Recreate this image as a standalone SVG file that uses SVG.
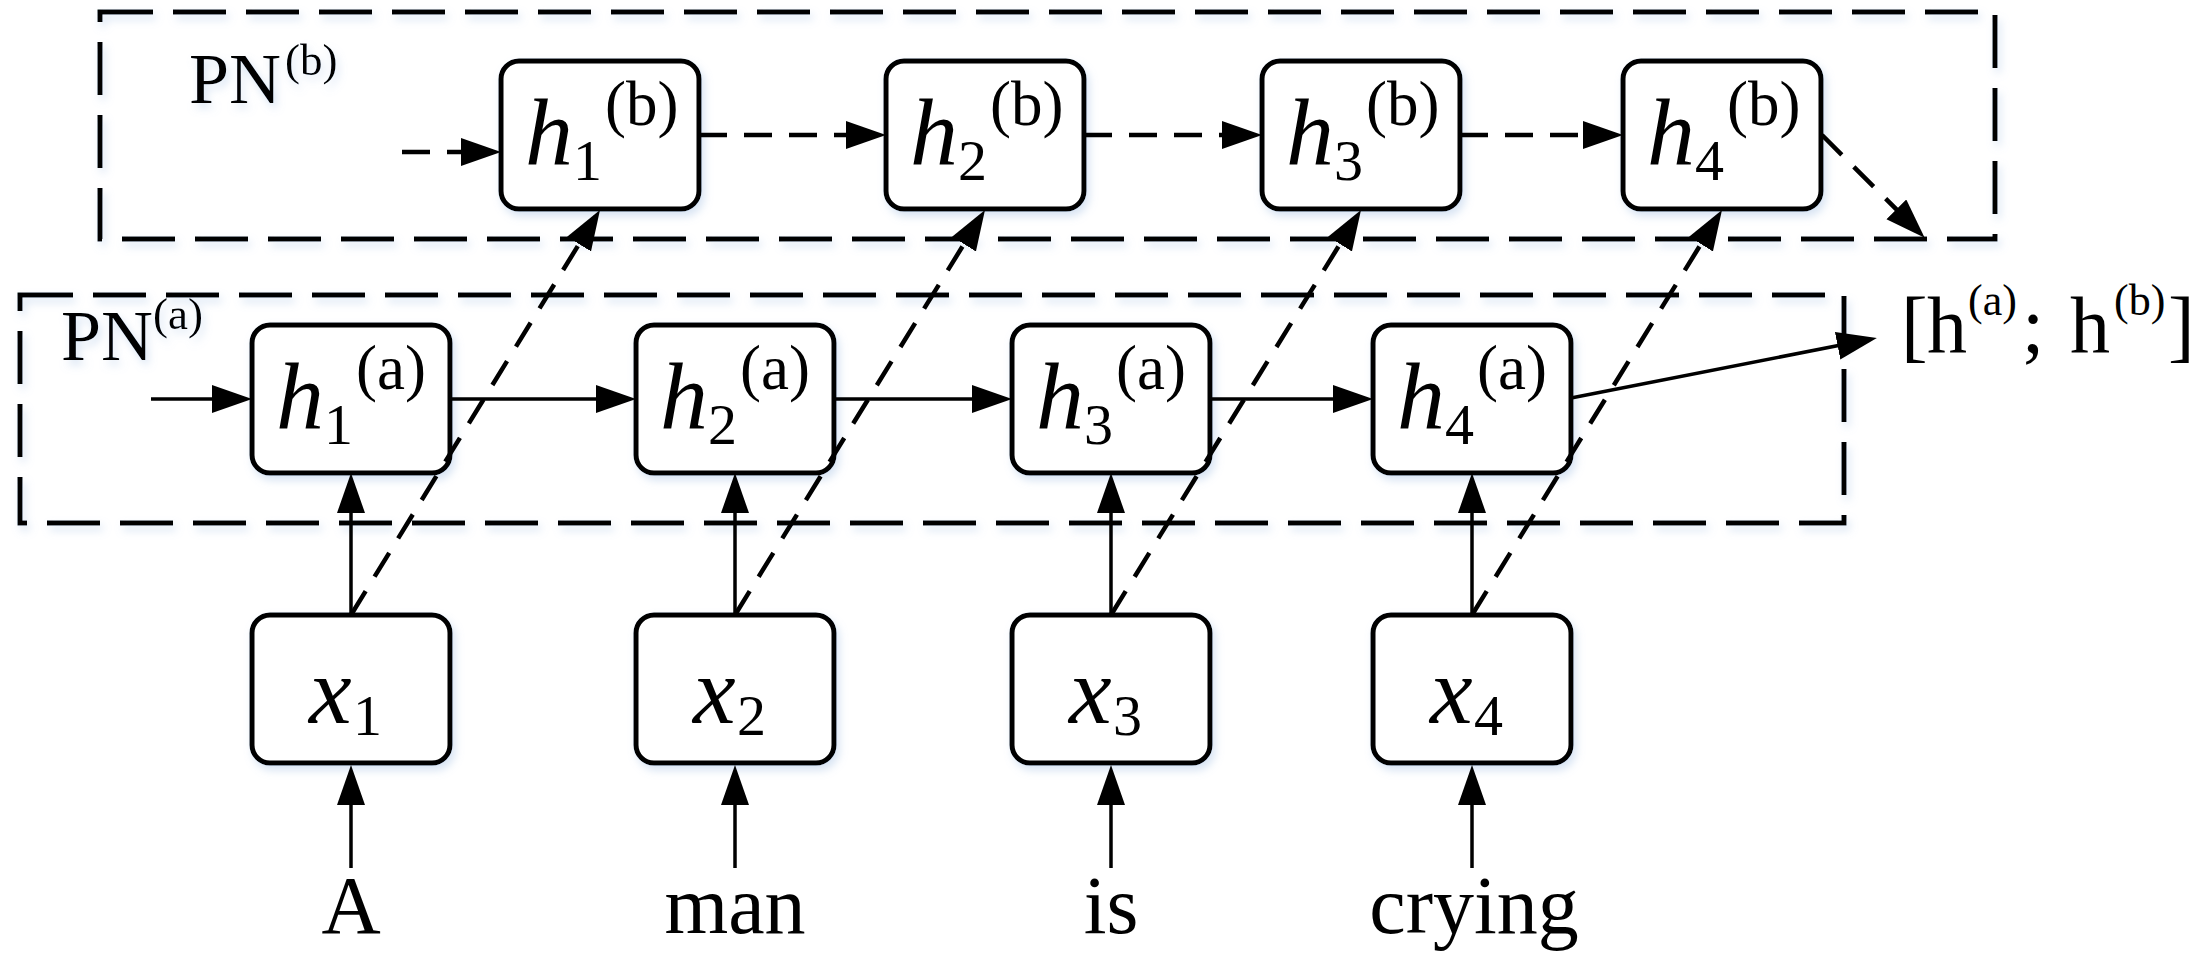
<svg xmlns="http://www.w3.org/2000/svg" width="2200" height="960" viewBox="0 0 2200 960">
<defs>
<filter id="sh" x="-10%" y="-10%" width="125%" height="130%">
<feDropShadow dx="3" dy="5" stdDeviation="4" flood-color="#8fb0dc" flood-opacity="0.35"/>
</filter>
<marker id="ah" markerUnits="userSpaceOnUse" markerWidth="42" markerHeight="30" refX="32" refY="14" orient="auto" viewBox="0 0 42 30">
<path d="M0,0 L40,14 L0,28 z" fill="#000"/>
</marker>
</defs>
<style>
.frame{fill:none;stroke:#000;stroke-width:5;stroke-dasharray:53 20}
.box{fill:#fff;stroke:#000;stroke-width:5}
text{font-family:"Liberation Serif","Times New Roman",serif;fill:#000}
.it{font-style:italic;font-size:96px}
.sub{font-size:58px}
.sup{font-size:63px}
.word{font-size:82px;text-anchor:middle}
.solid{fill:none;stroke:#000;stroke-width:3.5;marker-end:url(#ah)}
.dash{fill:none;stroke:#000;stroke-width:4.5;stroke-dasharray:28 17;marker-end:url(#ah)}
</style>
<rect width="2200" height="960" fill="#fff"/>

<g id="frame-b" filter="url(#sh)">
<rect class="frame" x="100" y="12" width="1895" height="227"/>
<text x="189" y="103" font-size="72">PN</text>
<text x="285" y="75" font-size="45">(b)</text>
</g>
<g id="frame-a" filter="url(#sh)">
<rect class="frame" x="20" y="295" width="1824" height="228"/>
<text x="61" y="360" font-size="72">PN</text>
<text x="153" y="329" font-size="45">(a)</text>
</g>

<g id="hb1"><rect class="box" filter="url(#sh)" x="501" y="61" width="198" height="148" rx="18"/>
<text class="it" x="525" y="165">h</text><text class="sub" x="573" y="180">1</text><text class="sup" x="605" y="125">(b)</text></g>
<g id="hb2"><rect class="box" filter="url(#sh)" x="886" y="61" width="198" height="148" rx="18"/>
<text class="it" x="910" y="165">h</text><text class="sub" x="958" y="180">2</text><text class="sup" x="990" y="125">(b)</text></g>
<g id="hb3"><rect class="box" filter="url(#sh)" x="1262" y="61" width="198" height="148" rx="18"/>
<text class="it" x="1286" y="165">h</text><text class="sub" x="1334" y="180">3</text><text class="sup" x="1366" y="125">(b)</text></g>
<g id="hb4"><rect class="box" filter="url(#sh)" x="1623" y="61" width="198" height="148" rx="18"/>
<text class="it" x="1647" y="165">h</text><text class="sub" x="1695" y="180">4</text><text class="sup" x="1727" y="125">(b)</text></g>

<g id="ha1"><rect class="box" filter="url(#sh)" x="252" y="325" width="198" height="148" rx="18"/>
<text class="it" x="276" y="429">h</text><text class="sub" x="324" y="444">1</text><text class="sup" x="356" y="389">(a)</text></g>
<g id="ha2"><rect class="box" filter="url(#sh)" x="636" y="325" width="198" height="148" rx="18"/>
<text class="it" x="660" y="429">h</text><text class="sub" x="708" y="444">2</text><text class="sup" x="740" y="389">(a)</text></g>
<g id="ha3"><rect class="box" filter="url(#sh)" x="1012" y="325" width="198" height="148" rx="18"/>
<text class="it" x="1036" y="429">h</text><text class="sub" x="1084" y="444">3</text><text class="sup" x="1116" y="389">(a)</text></g>
<g id="ha4"><rect class="box" filter="url(#sh)" x="1373" y="325" width="198" height="148" rx="18"/>
<text class="it" x="1397" y="429">h</text><text class="sub" x="1445" y="444">4</text><text class="sup" x="1477" y="389">(a)</text></g>

<g id="x1"><rect class="box" filter="url(#sh)" x="252" y="615" width="198" height="148" rx="18"/>
<text class="it" x="309" y="723">x</text><text class="sub" x="353" y="735">1</text></g>
<g id="x2"><rect class="box" filter="url(#sh)" x="636" y="615" width="198" height="148" rx="18"/>
<text class="it" x="693" y="723">x</text><text class="sub" x="737" y="735">2</text></g>
<g id="x3"><rect class="box" filter="url(#sh)" x="1012" y="615" width="198" height="148" rx="18"/>
<text class="it" x="1069" y="723">x</text><text class="sub" x="1113" y="735">3</text></g>
<g id="x4"><rect class="box" filter="url(#sh)" x="1373" y="615" width="198" height="148" rx="18"/>
<text class="it" x="1430" y="723">x</text><text class="sub" x="1474" y="735">4</text></g>

<g id="words">
<text class="word" x="351" y="933">A</text>
<text class="word" x="735" y="933">man</text>
<text class="word" x="1111" y="933">is</text>
<text class="word" x="1474" y="933">crying</text>
</g>

<g id="output">
<text x="1901" y="352" font-size="80">[</text>
<text x="1927" y="352" font-size="80">h</text>
<text x="1968" y="315" font-size="44">(a)</text>
<text x="2022" y="352" font-size="80">;</text>
<text x="2070" y="352" font-size="80">h</text>
<text x="2114" y="315" font-size="44">(b)</text>
<text x="2168" y="352" font-size="80">]</text>
</g>

<g id="connectors">
<line class="solid" x1="351" y1="868" x2="351" y2="773"/>
<line class="solid" x1="735" y1="868" x2="735" y2="773"/>
<line class="solid" x1="1111" y1="868" x2="1111" y2="773"/>
<line class="solid" x1="1472" y1="868" x2="1472" y2="773"/>
<line class="solid" x1="351" y1="615" x2="351" y2="481"/>
<line class="solid" x1="735" y1="615" x2="735" y2="481"/>
<line class="solid" x1="1111" y1="615" x2="1111" y2="481"/>
<line class="solid" x1="1472" y1="615" x2="1472" y2="481"/>
<line class="solid" x1="151" y1="399" x2="244" y2="399"/>
<line class="solid" x1="450" y1="399" x2="628" y2="399"/>
<line class="solid" x1="834" y1="399" x2="1004" y2="399"/>
<line class="solid" x1="1210" y1="399" x2="1365" y2="399"/>
<line class="solid" x1="1571" y1="398" x2="1869" y2="339.5"/>
<line class="dash" x1="402" y1="152" x2="493" y2="152"/>
<line class="dash" x1="699" y1="135" x2="878" y2="135"/>
<line class="dash" x1="1084" y1="135" x2="1254" y2="135"/>
<line class="dash" x1="1460" y1="135" x2="1615" y2="135"/>
<line class="dash" x1="1822" y1="135" x2="1919" y2="232"/>
<line class="dash" x1="351" y1="615" x2="595.8" y2="216.8"/>
<line class="dash" x1="735" y1="615" x2="980.8" y2="216.8"/>
<line class="dash" x1="1111" y1="615" x2="1356.8" y2="216.8"/>
<line class="dash" x1="1472" y1="615" x2="1717.8" y2="216.8"/>
</g>
</svg>
